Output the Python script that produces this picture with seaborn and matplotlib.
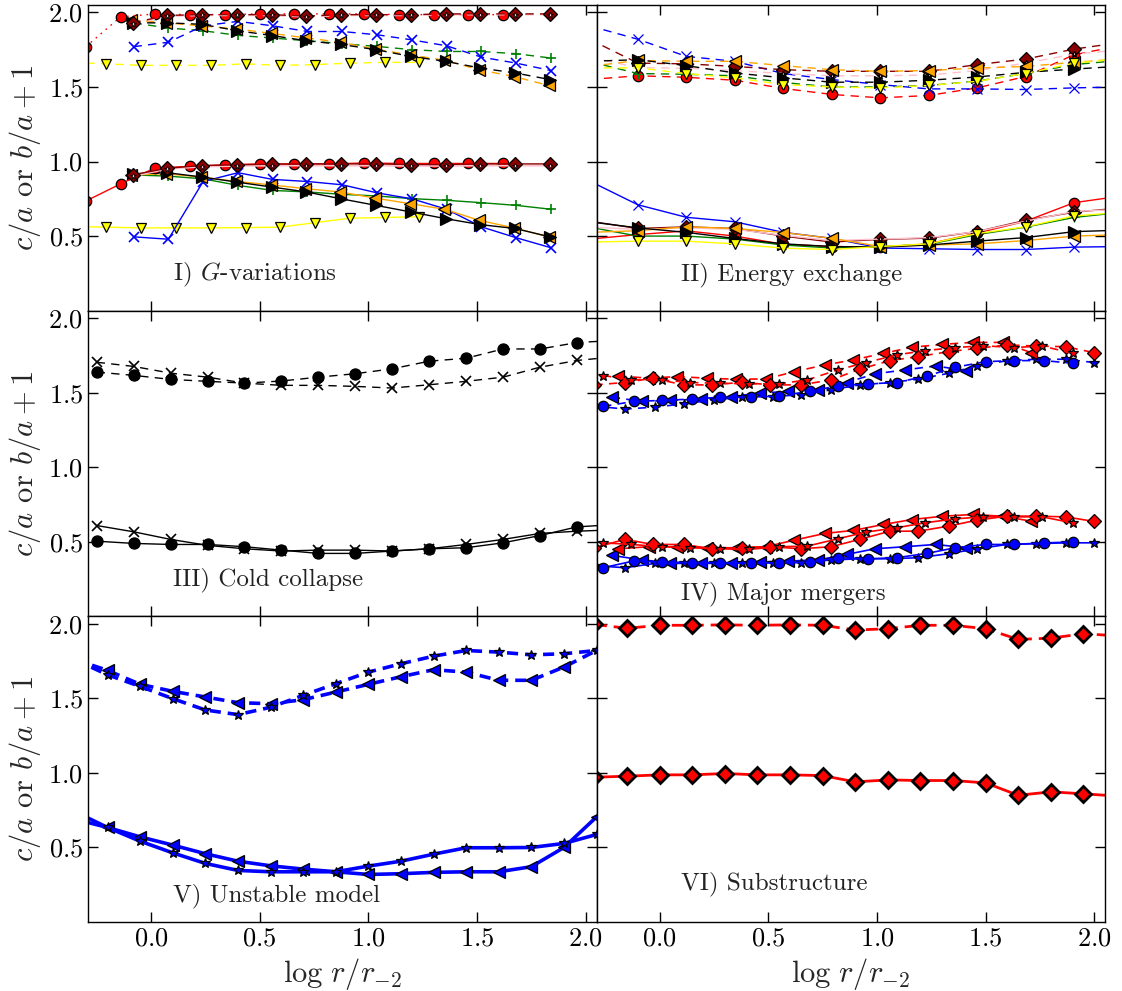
import numpy as np
import matplotlib
matplotlib.use("Agg")
import matplotlib.pyplot as plt
import seaborn as sns

# ---------------- data ----------------
# Panel I: G-variations
g_red_x = [-0.30, -0.14, 0.02, 0.18, 0.34, 0.50, 0.66, 0.82, 0.98, 1.14, 1.30, 1.46, 1.62]
g_red_ba = [1.77, 1.97, 1.99, 1.985, 1.985, 1.99, 1.99, 1.99, 1.99, 1.985, 1.985, 1.985, 1.985]
g_red_ca = [0.735, 0.85, 0.958, 0.967, 0.978, 0.984, 0.984, 0.984, 0.99, 0.987, 0.987, 0.987, 0.987]
g_dred_x = [-0.085, 0.075, 0.235, 0.395, 0.555, 0.715, 0.875, 1.035, 1.195, 1.355, 1.515, 1.675, 1.835]
g_dred_ba = [1.93, 1.98, 1.985, 1.985, 1.985, 1.975, 1.985, 1.985, 1.985, 1.99, 1.99, 1.99, 1.99]
g_dred_ca = [0.91, 0.955, 0.973, 0.978, 0.982, 0.984, 0.984, 0.984, 0.98, 0.98, 0.984, 0.984, 0.984]
g_pink_ba = [1.92, 1.975, 1.98, 1.98, 1.98, 1.97, 1.98, 1.98, 1.98, 1.985, 1.985, 1.985, 1.985]
g_pink_ca = [0.90, 0.95, 0.965, 0.97, 0.972, 0.972, 0.972, 0.972, 0.97, 0.97, 0.972, 0.972, 0.972]
g_orng_x = [-0.09, 0.07, 0.23, 0.39, 0.55, 0.71, 0.87, 1.03, 1.19, 1.35, 1.51, 1.67, 1.83]
g_orng_ba = [1.95, 1.93, 1.91, 1.89, 1.86, 1.83, 1.80, 1.755, 1.715, 1.68, 1.615, 1.57, 1.51]
g_orng_ca = [0.91, 0.918, 0.896, 0.867, 0.844, 0.818, 0.796, 0.755, 0.718, 0.68, 0.606, 0.555, 0.495]
g_blk_x = [-0.085, 0.075, 0.235, 0.395, 0.555, 0.715, 0.875, 1.035, 1.195, 1.355, 1.515, 1.675, 1.835]
g_blk_ba = [1.93, 1.93, 1.92, 1.878, 1.845, 1.81, 1.785, 1.75, 1.705, 1.672, 1.627, 1.594, 1.55]
g_blk_ca = [0.918, 0.925, 0.896, 0.862, 0.829, 0.796, 0.75, 0.706, 0.662, 0.617, 0.577, 0.551, 0.495]
g_grn_x = [-0.08, 0.08, 0.24, 0.40, 0.56, 0.72, 0.88, 1.04, 1.20, 1.36, 1.52, 1.68, 1.84]
g_grn_ba = [1.93, 1.895, 1.877, 1.846, 1.828, 1.81, 1.79, 1.772, 1.75, 1.738, 1.738, 1.723, 1.694]
g_grn_ca = [0.91, 0.902, 0.884, 0.84, 0.806, 0.796, 0.78, 0.769, 0.751, 0.74, 0.724, 0.706, 0.68]
g_blue_x = [-0.08, 0.08, 0.24, 0.40, 0.56, 0.72, 0.88, 1.04, 1.20, 1.36, 1.52, 1.68, 1.84]
g_blue_ba = [1.77, 1.80, 1.91, 1.94, 1.91, 1.872, 1.872, 1.85, 1.816, 1.776, 1.70, 1.66, 1.61]
g_blue_ca = [0.495, 0.479, 0.866, 0.925, 0.88, 0.866, 0.844, 0.79, 0.75, 0.68, 0.562, 0.489, 0.422]
g_yel_x = [-0.365, -0.205, -0.045, 0.115, 0.275, 0.435, 0.595, 0.755, 0.915, 1.075, 1.235]
g_yel_ba = [1.665, 1.655, 1.645, 1.645, 1.645, 1.655, 1.645, 1.65, 1.66, 1.665, 1.665]
g_yel_ca = [0.565, 0.56, 0.555, 0.555, 0.555, 0.557, 0.56, 0.59, 0.62, 0.625, 0.63]

# Panel II: Energy exchange
e_x = [-0.323, -0.10, 0.123, 0.346, 0.569, 0.792, 1.015, 1.238, 1.461, 1.684, 1.907, 2.13]
e_blue_ba = [1.91, 1.82, 1.705, 1.672, 1.59, 1.55, 1.516, 1.487, 1.487, 1.483, 1.494, 1.50]
e_blue_ca = [0.87, 0.71, 0.626, 0.596, 0.525, 0.485, 0.42, 0.415, 0.41, 0.41, 0.426, 0.43]
e_red_ba = [1.55, 1.575, 1.565, 1.545, 1.49, 1.45, 1.427, 1.443, 1.494, 1.57, 1.716, 1.78]
e_red_ca = [0.48, 0.51, 0.535, 0.50, 0.445, 0.43, 0.426, 0.448, 0.52, 0.60, 0.724, 0.77]
e_dred_ba = [1.82, 1.66, 1.655, 1.638, 1.616, 1.605, 1.605, 1.605, 1.65, 1.687, 1.754, 1.80]
e_dred_ca = [0.60, 0.551, 0.562, 0.551, 0.50, 0.46, 0.478, 0.486, 0.53, 0.606, 0.66, 0.69]
e_pink_ba = [1.70, 1.63, 1.625, 1.61, 1.59, 1.575, 1.575, 1.58, 1.61, 1.66, 1.72, 1.75]
e_pink_ca = [0.56, 0.545, 0.555, 0.545, 0.505, 0.47, 0.48, 0.49, 0.53, 0.60, 0.665, 0.68]
e_orng_ba = [1.638, 1.678, 1.672, 1.672, 1.643, 1.616, 1.605, 1.61, 1.627, 1.638, 1.665, 1.69]
e_orng_ca = [0.525, 0.536, 0.562, 0.551, 0.524, 0.485, 0.43, 0.44, 0.448, 0.47, 0.50, 0.51]
e_blk_ba = [1.672, 1.683, 1.643, 1.594, 1.561, 1.532, 1.532, 1.545, 1.567, 1.598, 1.62, 1.64]
e_blk_ca = [0.596, 0.555, 0.525, 0.484, 0.448, 0.43, 0.426, 0.44, 0.466, 0.49, 0.53, 0.54]
e_yel_ba = [1.628, 1.628, 1.59, 1.561, 1.516, 1.50, 1.494, 1.51, 1.538, 1.59, 1.66, 1.69]
e_yel_ca = [0.46, 0.466, 0.466, 0.448, 0.419, 0.41, 0.43, 0.448, 0.517, 0.562, 0.635, 0.66]
e_grn_ba = [1.67, 1.59, 1.585, 1.575, 1.53, 1.50, 1.50, 1.51, 1.54, 1.59, 1.65, 1.68]
e_grn_ca = [0.56, 0.50, 0.50, 0.48, 0.44, 0.42, 0.43, 0.445, 0.51, 0.56, 0.625, 0.66]

# Panel III: Cold collapse
c_x = [-0.25, -0.08, 0.09, 0.26, 0.43, 0.60, 0.77, 0.94, 1.11, 1.28, 1.45, 1.62, 1.79, 1.96, 2.13]
c_dot_ba = [1.638, 1.616, 1.589, 1.576, 1.564, 1.578, 1.604, 1.627, 1.66, 1.711, 1.731, 1.793, 1.793, 1.836, 1.85]
c_dot_ca = [0.504, 0.489, 0.482, 0.482, 0.467, 0.444, 0.422, 0.422, 0.438, 0.453, 0.46, 0.493, 0.542, 0.60, 0.615]
c_crs_ba = [1.704, 1.676, 1.631, 1.604, 1.564, 1.549, 1.549, 1.542, 1.531, 1.553, 1.576, 1.604, 1.671, 1.716, 1.74]
c_crs_ca = [0.609, 0.567, 0.516, 0.476, 0.453, 0.438, 0.444, 0.444, 0.438, 0.453, 0.482, 0.516, 0.556, 0.571, 0.58]

# Panel IV: Major mergers
m_rD_x = [-0.30, -0.16, -0.03, 0.11, 0.24, 0.38, 0.51, 0.65, 0.79, 0.92, 1.06, 1.19, 1.33, 1.46, 1.60, 1.73, 1.87, 2.00]
m_rD_ba = [1.552, 1.568, 1.597, 1.552, 1.552, 1.57, 1.552, 1.552, 1.586, 1.657, 1.715, 1.742, 1.775, 1.797, 1.82, 1.813, 1.808, 1.768]
m_rD_ca = [0.46, 0.516, 0.482, 0.482, 0.453, 0.46, 0.467, 0.453, 0.467, 0.516, 0.571, 0.571, 0.605, 0.645, 0.672, 0.672, 0.667, 0.636]
m_rT_x = [-0.19, -0.05, 0.08, 0.22, 0.35, 0.49, 0.62, 0.76, 0.89, 1.03, 1.16, 1.30, 1.44, 1.58, 1.71]
m_rT_ba = [1.612, 1.597, 1.608, 1.597, 1.59, 1.592, 1.641, 1.686, 1.719, 1.764, 1.804, 1.824, 1.837, 1.837, 1.768]
m_rT_ca = [0.453, 0.467, 0.467, 0.46, 0.46, 0.467, 0.511, 0.556, 0.576, 0.616, 0.649, 0.671, 0.683, 0.671, 0.638]
m_rS_x = [-0.26, -0.13, 0.01, 0.14, 0.28, 0.41, 0.55, 0.68, 0.82, 0.95, 1.09, 1.22, 1.36, 1.49, 1.63, 1.76, 1.90]
m_rS_ba = [1.615, 1.586, 1.586, 1.568, 1.563, 1.559, 1.559, 1.586, 1.653, 1.702, 1.753, 1.782, 1.802, 1.815, 1.802, 1.813, 1.764]
m_rS_ca = [0.493, 0.482, 0.467, 0.46, 0.453, 0.449, 0.467, 0.471, 0.52, 0.565, 0.594, 0.627, 0.654, 0.667, 0.667, 0.667, 0.627]
m_bO_x = [-0.26, -0.12, 0.01, 0.15, 0.28, 0.42, 0.55, 0.69, 0.82, 0.96, 1.09, 1.23, 1.36, 1.50, 1.63, 1.77, 1.90]
m_bO_ba = [1.408, 1.441, 1.448, 1.457, 1.47, 1.468, 1.479, 1.508, 1.546, 1.559, 1.568, 1.612, 1.67, 1.708, 1.715, 1.715, 1.697]
m_bO_ca = [0.326, 0.371, 0.364, 0.36, 0.36, 0.355, 0.36, 0.364, 0.393, 0.386, 0.393, 0.422, 0.46, 0.482, 0.482, 0.493, 0.498]
m_bS_x = [-0.30, -0.16, -0.02, 0.11, 0.25, 0.38, 0.52, 0.65, 0.79, 0.92, 1.06, 1.19, 1.33, 1.46, 1.60, 1.73, 1.87, 2.00]
m_bS_ba = [1.41, 1.39, 1.403, 1.425, 1.452, 1.47, 1.474, 1.486, 1.519, 1.552, 1.568, 1.59, 1.63, 1.679, 1.715, 1.724, 1.724, 1.702]
m_bS_ca = [0.34, 0.326, 0.355, 0.355, 0.355, 0.36, 0.36, 0.36, 0.378, 0.386, 0.386, 0.393, 0.42, 0.453, 0.482, 0.487, 0.493, 0.493]
m_bT_x = [-0.22, -0.08, 0.05, 0.19, 0.33, 0.46, 0.59, 0.73, 0.86, 0.99, 1.13, 1.27, 1.41]
m_bT_ba = [1.47, 1.441, 1.448, 1.457, 1.474, 1.497, 1.508, 1.519, 1.568, 1.626, 1.653, 1.679, 1.648]
m_bT_ca = [0.409, 0.378, 0.36, 0.36, 0.36, 0.364, 0.371, 0.378, 0.415, 0.453, 0.467, 0.482, 0.46]

# Panel V: Unstable model
u_x = [-0.35, -0.20, -0.05, 0.10, 0.25, 0.40, 0.55, 0.70, 0.85, 1.00, 1.15, 1.30, 1.45, 1.60, 1.75, 1.90, 2.05]
u_star_ba = [1.76, 1.658, 1.58, 1.498, 1.422, 1.391, 1.44, 1.52, 1.598, 1.676, 1.732, 1.783, 1.821, 1.81, 1.792, 1.799, 1.821]
u_tri_ba = [1.76, 1.6875, 1.594, 1.547, 1.509, 1.471, 1.464, 1.491, 1.542, 1.594, 1.645, 1.692, 1.676, 1.621, 1.621, 1.71, 1.821]
u_star_ca = [0.69, 0.634, 0.542, 0.464, 0.393, 0.346, 0.337, 0.337, 0.337, 0.375, 0.408, 0.455, 0.498, 0.498, 0.50, 0.527, 0.587]
u_tri_ca = [0.74, 0.634, 0.571, 0.516, 0.458, 0.408, 0.377, 0.355, 0.337, 0.319, 0.324, 0.333, 0.337, 0.337, 0.371, 0.50, 0.705]

# Panel VI: Substructure
s_x = [-0.30, -0.15, 0.00, 0.15, 0.30, 0.45, 0.60, 0.75, 0.90, 1.05, 1.20, 1.35, 1.50, 1.65, 1.80, 1.95, 2.10]
s_ba = [1.996, 1.97, 1.99, 1.99, 1.993, 1.99, 1.993, 1.99, 1.958, 1.967, 1.99, 1.99, 1.967, 1.895, 1.904, 1.933, 1.92]
s_ca = [0.971, 0.978, 0.987, 0.987, 0.996, 0.987, 0.987, 0.982, 0.94, 0.953, 0.949, 0.949, 0.933, 0.85, 0.873, 0.86, 0.845]

panel_titles = ["I) $G$-variations", "II) Energy exchange", "III) Cold collapse",
                "IV) Major mergers", "V) Unstable model", "VI) Substructure"]
x_ticks = [0.0, 0.5, 1.0, 1.5, 2.0]
y_ticks = [0.5, 1.0, 1.5, 2.0]

# ---------------- style ----------------
sns.set_style("ticks")
plt.rcParams.update({
    "font.family": ["cmr10", "DejaVu Serif"],
    "mathtext.fontset": "cm",
    "axes.formatter.use_mathtext": True,
    "lines.scale_dashes": False,
    "axes.edgecolor": "black",
    "axes.linewidth": 1.0,
})

DASH = (0, (6, 4.5))
DOT = (0, (1.2, 3.5))


def draw(ax, x, y, color, marker, ms, ls="-", lw=1.0, mec="black", mew=0.9, z=2):
    sns.lineplot(x=x, y=y, ax=ax, color=color, marker=marker, markersize=ms,
                 linestyle=ls, linewidth=lw, markeredgecolor=mec,
                 markeredgewidth=mew, markerfacecolor=color,
                 sort=False, estimator=None, legend=False, zorder=z)


fig, axes = plt.subplots(3, 2, figsize=(11.22, 9.91), dpi=100, sharex=True, sharey=True)
fig.subplots_adjust(left=0.0784, right=0.985, bottom=0.0696, top=0.995, wspace=0, hspace=0)

# Panel I
ax = axes[0, 0]
for y, ls in ((g_yel_ba, DASH), (g_yel_ca, "-")):
    draw(ax, g_yel_x, y, "yellow", "v", 7.5, ls)
for y, ls in ((g_grn_ba, DASH), (g_grn_ca, "-")):
    draw(ax, g_grn_x, y, "green", "+", 7.5, ls, mec="green", mew=1.2)
for y, ls in ((g_blue_ba, DASH), (g_blue_ca, "-")):
    draw(ax, g_blue_x, y, "blue", "x", 7.5, ls, mec="blue", mew=1.2)
for y, ls in ((g_orng_ba, DASH), (g_orng_ca, "-")):
    draw(ax, g_orng_x, y, "orange", "<", 8.5, ls)
for y, ls in ((g_blk_ba, DASH), (g_blk_ca, "-")):
    draw(ax, g_blk_x, y, "black", ">", 8.5, ls)
for y, ls in ((g_red_ba, DOT), (g_red_ca, "-")):
    draw(ax, g_red_x, y, "red", "o", 7.5, ls)
for y, ls in ((g_pink_ba, DASH), (g_pink_ca, "-")):
    draw(ax, g_dred_x, y, "pink", None, 1, ls, lw=1.2)
for y, ls in ((g_dred_ba, DASH), (g_dred_ca, "-")):
    draw(ax, g_dred_x, y, "darkred", "D", 7.0, ls)
for y in (g_pink_ba, g_pink_ca):
    draw(ax, g_dred_x, y, "pink", "*", 5.0, "none", mew=0.6)

# Panel II
ax = axes[0, 1]
for col, mk, ms, ba, ca, mec in (("red", "o", 7.5, e_red_ba, e_red_ca, "black"),
                                 ("green", "+", 7.5, e_grn_ba, e_grn_ca, "green"),
                                 ("blue", "x", 7.5, e_blue_ba, e_blue_ca, "blue"),
                                 ("darkred", "D", 7.0, e_dred_ba, e_dred_ca, "black"),
                                 ("pink", "*", 5.0, e_pink_ba, e_pink_ca, "black"),
                                 ("orange", "<", 8.5, e_orng_ba, e_orng_ca, "black"),
                                 ("black", ">", 8.5, e_blk_ba, e_blk_ca, "black"),
                                 ("yellow", "v", 7.5, e_yel_ba, e_yel_ca, "black")):
    draw(ax, e_x, ba, col, mk, ms, DASH, mec=mec)
    draw(ax, e_x, ca, col, mk, ms, "-", mec=mec)

# Panel III
ax = axes[1, 0]
draw(ax, c_x, c_crs_ba, "black", "x", 7, DASH, mec="black", mew=1.2)
draw(ax, c_x, c_crs_ca, "black", "x", 7, "-", mec="black", mew=1.2)
draw(ax, c_x, c_dot_ba, "black", "o", 8, DASH)
draw(ax, c_x, c_dot_ca, "black", "o", 8, "-")

# Panel IV
ax = axes[1, 1]
for x, ba, ca, col, mk, ms in ((m_bT_x, m_bT_ba, m_bT_ca, "blue", "<", 8.5),
                               (m_bS_x, m_bS_ba, m_bS_ca, "blue", "*", 7),
                               (m_bO_x, m_bO_ba, m_bO_ca, "blue", "o", 7.5),
                               (m_rT_x, m_rT_ba, m_rT_ca, "red", "<", 8.5),
                               (m_rD_x, m_rD_ba, m_rD_ca, "red", "D", 7.5),
                               (m_rS_x, m_rS_ba, m_rS_ca, "red", "*", 7)):
    draw(ax, x, ba, col, mk, ms, DASH, lw=1.2)
    draw(ax, x, ca, col, mk, ms, "-", lw=1.2)

# Panel V
ax = axes[2, 0]
draw(ax, u_x, u_tri_ba, "blue", "<", 8, (0, (8, 5)), lw=2.6)
draw(ax, u_x, u_star_ba, "blue", "*", 7, (0, (8, 5)), lw=2.6)
draw(ax, u_x, u_tri_ca, "blue", "<", 8, "-", lw=2.6)
draw(ax, u_x, u_star_ca, "blue", "*", 7, "-", lw=2.6)

# Panel VI
ax = axes[2, 1]
draw(ax, s_x, s_ba, "red", "D", 8.5, (0, (9, 5)), lw=2.0, mew=2.0)
draw(ax, s_x, s_ca, "red", "D", 8.5, "-", lw=2.0, mew=2.0)

title_pos = [(0.10, 0.20), (0.10, 0.20), (0.10, 0.205), (0.10, 0.115), (0.10, 0.137), (0.10, 0.217)]
for ax, title, (tx, ty) in zip(axes.flat, panel_titles, title_pos):
    ax.set_xlim(-0.29, 2.05)
    ax.set_ylim(0.0, 2.05)
    ax.set_xticks(x_ticks)
    ax.set_yticks(y_ticks)
    ax.tick_params(direction="in", top=True, right=True, length=7, width=1.0,
                   labelsize=19, colors="black")
    ax.text(tx, ty, title, fontsize=18, color="#222222", va="baseline", ha="left")
    ax.set_xlabel("")
    ax.set_ylabel("")
    for sp in ax.spines.values():
        sp.set_visible(True)
        sp.set_color("black")

for ax in axes[:, 0]:
    ax.set_ylabel(r"$c/a$ or $b/a+1$", fontsize=22, labelpad=4)
for ax in axes[2, :]:
    ax.set_xlabel(r"$\log\,r/r_{-2}$", fontsize=22, labelpad=4)

fig.savefig("out.png", dpi=100)
